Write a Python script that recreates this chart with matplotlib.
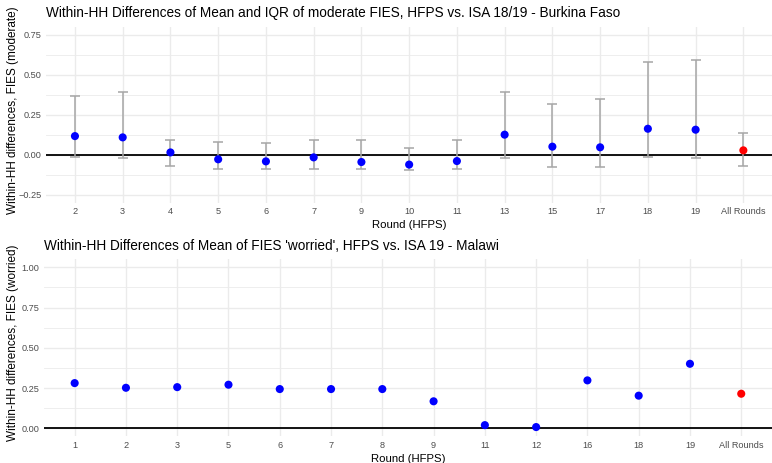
import matplotlib
matplotlib.use("Agg")
import matplotlib.pyplot as plt
import numpy as np

plt.rcParams['font.family'] = ['Liberation Sans', 'DejaVu Sans']

# Burkina Faso: mean and IQR of moderate FIES differences
bf_rounds = ["2", "3", "4", "5", "6", "7", "9", "10", "11", "13", "15", "17", "18", "19", "All Rounds"]
bf_mean = [0.115, 0.107, 0.013, -0.030, -0.043, -0.018, -0.047, -0.063, -0.041, 0.124, 0.049, 0.045, 0.161, 0.155, 0.026]
bf_low = [-0.016, -0.022, -0.072, -0.093, -0.093, -0.093, -0.093, -0.095, -0.093, -0.020, -0.080, -0.078, -0.016, -0.022, -0.074]
bf_high = [0.367, 0.390, 0.093, 0.076, 0.074, 0.090, 0.092, 0.038, 0.092, 0.393, 0.313, 0.349, 0.576, 0.589, 0.132]

# Malawi: mean of FIES 'worried' differences
mw_rounds = ["1", "2", "3", "5", "6", "7", "8", "9", "11", "12", "16", "18", "19", "All Rounds"]
mw_mean = [0.281, 0.252, 0.256, 0.271, 0.244, 0.244, 0.244, 0.168, 0.020, 0.008, 0.298, 0.203, 0.401, 0.215]

GRID = "#EBEBEB"
TXT = "#4D4D4D"


def style(ax, labels, ylim, major, minor):
    n = len(labels)
    x = np.arange(n)
    ax.set_xlim(-0.6, n - 0.4)
    ax.set_ylim(*ylim)
    ax.set_xticks(x)
    ax.set_xticklabels(labels)
    ax.set_yticks(major)
    ax.set_yticks(minor, minor=True)
    ax.grid(True, which="major", color=GRID, lw=1.0)
    ax.grid(True, which="minor", axis="y", color=GRID, lw=0.6)
    ax.set_axisbelow(True)
    for s in ax.spines.values():
        s.set_visible(False)
    ax.tick_params(which="both", length=0, labelsize=6.6, labelcolor=TXT, pad=3.5)
    ax.axhline(0, color="black", lw=1.3, zorder=2)
    ax.set_xlabel("Round (HFPS)", fontsize=8.2, labelpad=2.8)
    return x


fig = plt.figure(figsize=(7.72, 4.63), dpi=100)

ax1 = fig.add_axes([46.3 / 772, 1 - 202.5 / 463, (772 - 46.3) / 772, 176 / 463])
x1 = style(ax1, bf_rounds, (-0.3, 0.8),
           [-0.25, 0, 0.25, 0.5, 0.75], [-0.125, 0.125, 0.375, 0.625])
cols1 = ["blue"] * (len(bf_rounds) - 1) + ["red"]
m1 = np.array(bf_mean)
ax1.errorbar(x1, m1, yerr=[m1 - np.array(bf_low), np.array(bf_high) - m1],
             fmt="none", ecolor="#A6A6A6", elinewidth=1.1, capsize=3.6, capthick=1.1, zorder=3)
ax1.scatter(x1, m1, c=cols1, s=34, zorder=4, edgecolors="none")
ax1.set_ylabel("Within-HH differences, FIES (moderate)", fontsize=8.5)
ax1.yaxis.set_label_coords(-0.037, 0.526)
ax1.set_title("Within-HH Differences of Mean and IQR of moderate FIES, HFPS vs. ISA 18/19 - Burkina Faso",
              loc="left", fontsize=9.8, pad=7)

ax2 = fig.add_axes([43.9 / 772, 1 - 436.4 / 463, (772 - 43.9) / 772, 177.1 / 463])
x2 = style(ax2, mw_rounds, (-0.05, 1.05),
           [0, 0.25, 0.5, 0.75, 1.0], [0.125, 0.375, 0.625, 0.875])
cols2 = ["blue"] * (len(mw_rounds) - 1) + ["red"]
ax2.scatter(x2, mw_mean, c=cols2, s=34, zorder=4, edgecolors="none")
ax2.set_ylabel("Within-HH differences, FIES (worried)", fontsize=8.5)
ax2.yaxis.set_label_coords(-0.034, 0.53)
ax2.set_title("Within-HH Differences of Mean of FIES 'worried', HFPS vs. ISA 19 - Malawi",
              loc="left", fontsize=9.8, pad=7)

fig.savefig("out.png", dpi=100)
